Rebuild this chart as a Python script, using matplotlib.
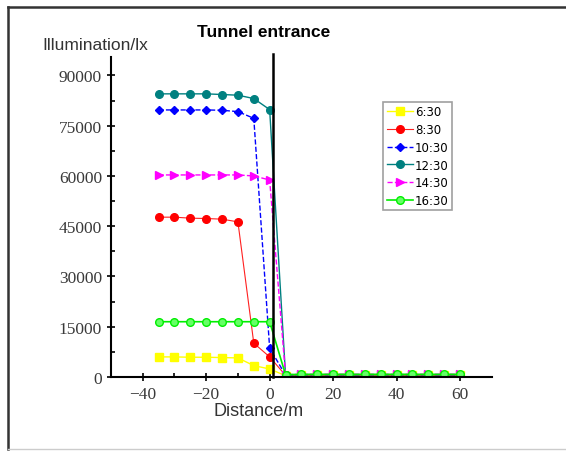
import matplotlib.pyplot as plt
from matplotlib.lines import Line2D

# distance from the tunnel entrance (m)
distance = [-35, -30, -25, -20, -15, -10, -5, 0, 5, 10, 15, 20, 25, 30, 35, 40, 45, 50, 55, 60]

# illumination (lx)
lux_0630 = [6000, 6000, 5900, 5900, 5800, 5700, 3400, 2400, 400, 500, 500, 500, 500, 500, 500, 500, 500, 500, 500, 500]
lux_0830 = [47700, 47700, 47400, 47300, 47100, 46300, 10100, 6000, 500, 600, 600, 600, 600, 600, 600, 600, 600, 600, 600, 600]
lux_1030 = [79700, 79700, 79700, 79700, 79600, 79200, 77200, 8600, 600, 700, 700, 700, 700, 700, 700, 700, 700, 700, 700, 700]
lux_1230 = [84500, 84500, 84500, 84500, 84300, 84100, 83100, 79800, 700, 700, 700, 700, 700, 700, 700, 700, 700, 700, 700, 700]
lux_1430 = [60300, 60300, 60300, 60300, 60300, 60300, 60000, 58800, 700, 800, 800, 800, 800, 800, 800, 800, 800, 800, 800, 800]
lux_1630 = [16500, 16500, 16500, 16500, 16500, 16500, 16500, 16500, 700, 800, 800, 800, 800, 800, 800, 800, 800, 800, 800, 800]

series_labels = ['6:30', '8:30', '10:30', '12:30', '14:30', '16:30']
x_ticks = [-40, -20, 0, 20, 40, 60]
y_ticks = [0, 15000, 30000, 45000, 60000, 75000, 90000]
entrance_x = 1

fig = plt.figure(figsize=(5.66, 4.52), dpi=100)
ax = fig.add_axes([0.196, 0.1637, 0.673, 0.708])

ax.plot(distance, lux_0630, color='#ffff00', lw=1.0, marker='s', ms=5.5, label=series_labels[0])
ax.plot(distance, lux_0830, color='#ff2020', lw=0.8, marker='o', ms=5.5, mfc='#ff0000', mec='#ff0000', label=series_labels[1])
ax.plot(distance, lux_1030, color='#0000ff', lw=1.0, ls='--', marker='D', ms=4.5, label=series_labels[2])
ax.plot(distance, lux_1230, color='#008080', lw=1.0, ls='-', marker='o', ms=5.5, label=series_labels[3])
ax.plot(distance, lux_1430, color='#ff00ff', lw=1.0, ls='--', marker='>', ms=5.5, label=series_labels[4])
ax.plot(distance, lux_1630, color='#00ee00', lw=1.2, marker='o', ms=5.5, mfc='#66ff66', label=series_labels[5])

# tunnel entrance marker
ax.plot([entrance_x, entrance_x], [0, 1.01], color='black', lw=1.8,
        transform=ax.get_xaxis_transform(), clip_on=False)

ax.set_xlim(-50, 70)
ax.set_ylim(0, 95500)
ax.set_xticks(x_ticks)
ax.set_yticks(y_ticks)
ax.set_xticks(range(-30, 70, 20), minor=True)
ax.set_yticks(range(7500, 95000, 15000), minor=True)

for side in ['top', 'right']:
    ax.spines[side].set_visible(False)
for side in ['left', 'bottom']:
    ax.spines[side].set_linewidth(1.5)

ax.tick_params(which='major', direction='inout', length=6, width=1.2,
               labelsize=12.5, labelcolor='#3a3a3a')
ax.tick_params(which='minor', direction='in', length=3, width=1.2)
for lab in ax.get_xticklabels() + ax.get_yticklabels():
    lab.set_family('Liberation Serif')
ax.set_xticklabels(['\u221240', '\u221220', '0', '20', '40', '60'])

leg = ax.legend(loc='upper left', bbox_to_anchor=(0.715, 0.86), fontsize=8.5,
                frameon=True, fancybox=False, edgecolor='#888888',
                handlelength=2.2, handletextpad=0.2, borderpad=0.3,
                labelspacing=0.4, borderaxespad=0)
leg.get_frame().set_linewidth(1.2)

fig.text(0.465, 0.929, 'Tunnel entrance', ha='center', va='center',
         fontsize=12.5, fontweight='bold', family='Liberation Sans')
fig.text(0.074, 0.900, 'Illumination/lx', ha='left', va='center',
         fontsize=12.5, family='Liberation Sans', color='#333333')
fig.text(0.456, 0.090, 'Distance/m', ha='center', va='center',
         fontsize=13, family='Liberation Sans', color='#333333')

# outer frame
fig.add_artist(Line2D([0.014, 1.0], [0.982, 0.982], color='#333333', lw=1.8))
fig.add_artist(Line2D([0.014, 0.014], [0.982, 0.004], color='#333333', lw=1.8))
fig.add_artist(Line2D([0.014, 1.0], [0.004, 0.004], color='#cccccc', lw=1.0))

fig.savefig('out.png', dpi=100)
